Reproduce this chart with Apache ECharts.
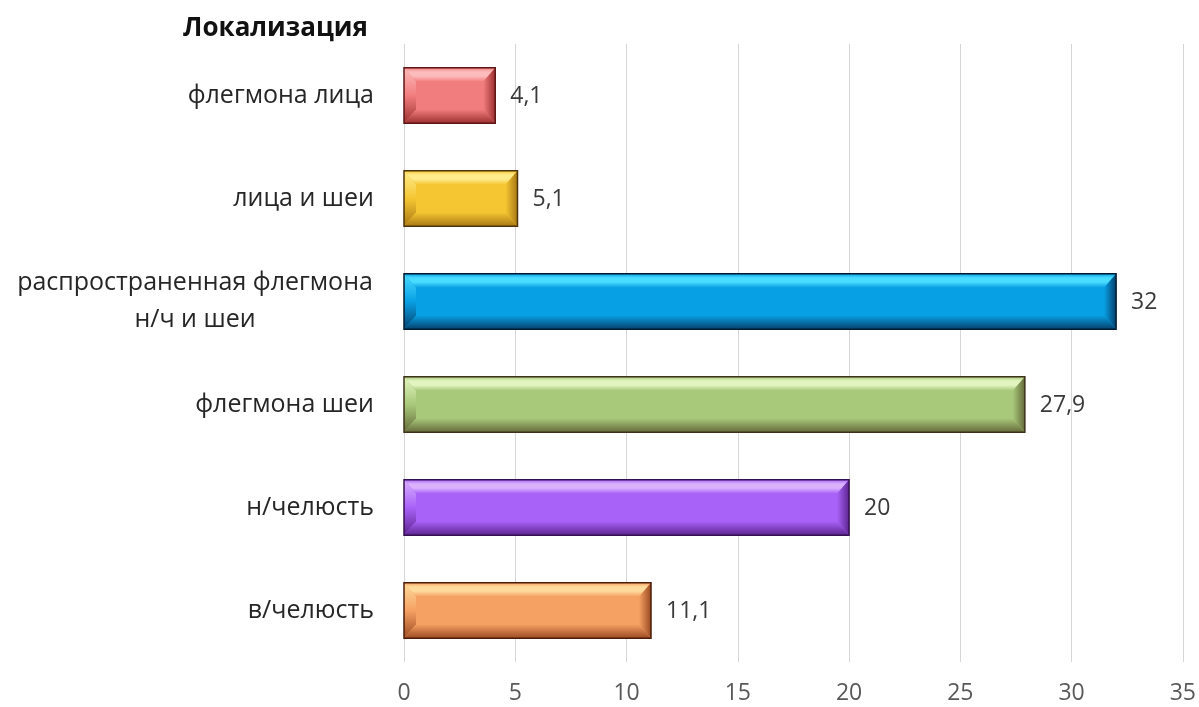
<!DOCTYPE html>
<html>
<head>
<meta charset="utf-8">
<script src="https://cdn.jsdelivr.net/npm/echarts@6/dist/echarts.min.js"></script>
<style>
  html, body { margin: 0; padding: 0; background: #ffffff; }
  #chart { width: 1199px; height: 707px; }
</style>
</head>
<body>
<div id="chart"></div>
<script>
// Categories, listed top to bottom
const categories = [
  'флегмона лица',
  'лица и шеи',
  'распространенная флегмона\nн/ч и шеи',
  'флегмона шеи',
  'н/челюсть',
  'в/челюсть'
];
// Share of cases, %
const values = [4.1, 5.1, 32, 27.9, 20, 11.1];
// Axis ticks
const xTicks = [0, 5, 10, 15, 20, 25, 30, 35];

// Bevel palette per bar: base face, light edge, dark edge, outline
const palette = [
  { base: '#f27d7e', light: '#fcbcbc', dark: '#9c3030', line: '#5e1616' },
  { base: '#f5c632', light: '#feec8c', dark: '#a87814', line: '#4e340a' },
  { base: '#08a0e4', light: '#4adcff', dark: '#06406c', line: '#011c30' },
  { base: '#a8c87a', light: '#e2f5c0', dark: '#666a3a', line: '#3c3218' },
  { base: '#a862f7', light: '#dab0ff', dark: '#5e2490', line: '#361052' },
  { base: '#f5a163', light: '#fedb9c', dark: '#9c4a22', line: '#4e1c08' }
];

const FONT = '"Open Sans", sans-serif';
const fmt = v => String(v).replace('.', ',');

function renderBevel(params, api) {
  const idx = api.value(0);
  const val = api.value(1);
  const start = api.coord([0, idx]);
  const end = api.coord([val, idx]);
  const h = api.size([0, 1])[1] * 0.54;
  const c = palette[params.dataIndex];
  const x0 = start[0], x1 = end[0];
  const y0 = start[1] - h / 2, y1 = start[1] + h / 2;
  const b = 12, bv = 14;
  const grad = (dir, stops) => new echarts.graphic.LinearGradient(0, 0, dir ? 1 : 0, dir ? 0 : 1,
    stops.map(s => ({ offset: s[0], color: s[1] })));
  return {
    type: 'group',
    children: [
      // face
      { type: 'rect', shape: { x: x0, y: y0, width: x1 - x0, height: h },
        style: { fill: c.base } },
      // top edge: glossy highlight
      { type: 'polygon', shape: { points: [[x0, y0], [x1, y0], [x1 - b, y0 + bv], [x0 + b, y0 + bv]] },
        style: { fill: grad(false, [[0, c.base], [0.3, c.light], [0.6, c.light], [1, c.base]]) } },
      // bottom edge: shade
      { type: 'polygon', shape: { points: [[x0, y1], [x1, y1], [x1 - b, y1 - bv], [x0 + b, y1 - bv]] },
        style: { fill: grad(false, [[0, c.base], [1, c.dark]]) } },
      // left edge
      { type: 'polygon', shape: { points: [[x0, y0], [x0 + b, y0 + bv], [x0 + b, y1 - bv], [x0, y1]] },
        style: { fill: grad(false, [[0, c.light], [0.5, c.base], [1, c.dark]]) } },
      // right edge
      { type: 'polygon', shape: { points: [[x1, y0], [x1 - b, y0 + bv], [x1 - b, y1 - bv], [x1, y1]] },
        style: { fill: grad(true, [[0, c.base], [1, c.dark]]) } },
      // outline
      { type: 'rect', shape: { x: x0, y: y0, width: x1 - x0, height: h },
        style: { fill: 'none', stroke: c.line, lineWidth: 1.5 } },
      // value label
      { type: 'text', x: x1 + 15, y: start[1] + 1,
        style: { text: fmt(val), fill: '#3a3a3a', font: '23px ' + FONT,
                 align: 'left', verticalAlign: 'middle' } }
    ]
  };
}

const chart = echarts.init(document.getElementById('chart'), null, { renderer: 'canvas' });
chart.setOption({
  backgroundColor: '#ffffff',
  animation: false,
  title: {
    text: 'Локализация',
    right: 1199 - 373,
    top: 11,
    textStyle: { fontFamily: FONT, fontWeight: 'bold', fontSize: 26, color: '#111111' }
  },
  grid: { left: 404, right: 16, top: 44, bottom: 45, containLabel: false },
  xAxis: {
    type: 'value',
    min: xTicks[0],
    max: xTicks[xTicks.length - 1],
    interval: 5,
    axisLine: { show: false },
    axisTick: { show: false },
    splitLine: { show: true, lineStyle: { color: '#d6d6d6', width: 1 } },
    axisLabel: { margin: 20, color: '#595959', fontSize: 23, fontFamily: FONT }
  },
  yAxis: {
    type: 'category',
    data: categories,
    inverse: true,
    axisLine: { show: false },
    axisTick: { show: false },
    axisLabel: {
      margin: 30,
      color: '#262626',
      fontSize: 25,
      lineHeight: 37,
      fontFamily: FONT,
      formatter: v => v.indexOf('\n') >= 0 ? '{m|' + v + '}' : v,
      rich: { m: { width: 358, align: 'center', fontSize: 25, lineHeight: 37, color: '#262626', fontFamily: FONT } }
    }
  },
  series: [{
    type: 'custom',
    renderItem: renderBevel,
    encode: { x: 1, y: 0 },
    data: values.map((v, i) => [i, v])
  }]
});
</script>
</body>
</html>
